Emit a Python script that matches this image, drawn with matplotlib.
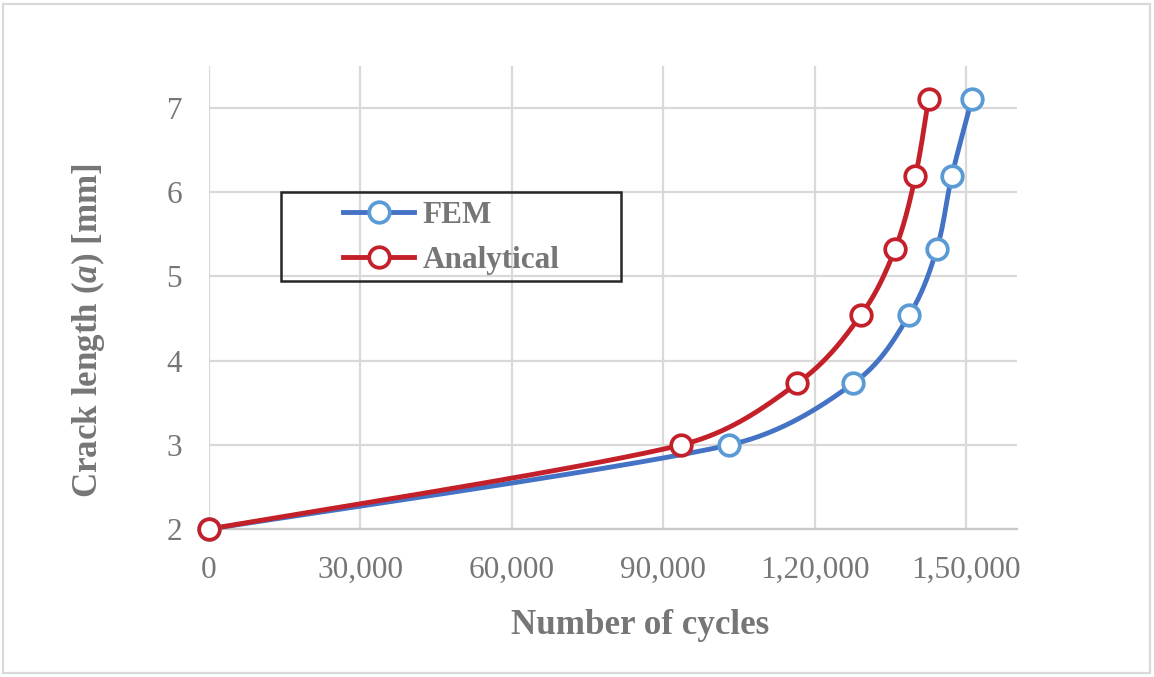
import matplotlib
matplotlib.use('Agg')
import matplotlib.pyplot as plt
import numpy as np
from matplotlib.patches import Rectangle
from matplotlib.lines import Line2D

# ---- data ----
fem_cycles = [0, 103100, 127600, 138650, 144150, 147100, 151100]
fem_crack  = [2.00, 3.00, 3.73, 4.54, 5.33, 6.19, 7.11]
ana_cycles = [0, 93550, 116500, 129100, 135900, 139900, 142500]
ana_crack  = [2.00, 3.00, 3.73, 4.54, 5.33, 6.19, 7.11]

x_ticks = [0, 30000, 60000, 90000, 120000, 150000]
x_tick_labels = ['0', '30,000', '60,000', '90,000', '1,20,000', '1,50,000']
y_ticks = [2, 3, 4, 5, 6, 7]

GRAY_TXT = '#767676'
BLUE_LINE, BLUE_MK = '#4472C4', '#5B9BD5'
RED = '#C3202A'

plt.rcParams['font.family'] = ['Liberation Serif', 'DejaVu Serif']
plt.rcParams['mathtext.fontset'] = 'custom'
plt.rcParams['mathtext.rm'] = 'Liberation Serif'
plt.rcParams['mathtext.it'] = 'Liberation Serif:italic'
plt.rcParams['mathtext.bf'] = 'Liberation Serif:bold'
plt.rcParams['mathtext.bfit'] = 'Liberation Serif:italic:bold'

# pixel scale of the plot area, so the smoothing behaves like it does on screen
SX, SY = 808.5 / 160000, 84.27


def smooth(x, y, n=60, c=0.4):
    # Excel-like smoothed line: cubic Bezier per segment, tangent from the
    # neighbouring points (|T|/6), handles capped to c * segment length
    p = np.column_stack([np.asarray(x) * SX, np.asarray(y) * SY]).astype(float)
    m = len(p)
    tang = np.empty_like(p)
    for i in range(m):
        tang[i] = p[min(i + 1, m - 1)] - p[max(i - 1, 0)]
    t = np.linspace(0, 1, n)[:, None]
    out = []
    for i in range(m - 1):
        a, b = p[i], p[i + 1]
        d = np.linalg.norm(b - a)
        ta = tang[i] / np.linalg.norm(tang[i])
        tb = tang[i + 1] / np.linalg.norm(tang[i + 1])
        ha = min(np.linalg.norm(tang[i]) / 6, c * d)
        hb = min(np.linalg.norm(tang[i + 1]) / 6, c * d)
        c1, c2 = a + ha * ta, b - hb * tb
        out.append((1 - t) ** 3 * a + 3 * (1 - t) ** 2 * t * c1
                   + 3 * (1 - t) * t ** 2 * c2 + t ** 3 * b)
    out = np.vstack(out)
    return out[:, 0] / SX, out[:, 1] / SY


fig = plt.figure(figsize=(11.54, 6.77), dpi=100)
ax = fig.add_axes([208.5 / 1154, 1 - 529.2 / 677, 808.5 / 1154, 463.5 / 677])

LW, MS, MEW = 3.5, 14.8, 2.7
for xs, ys, lc, mc in [(fem_cycles, fem_crack, BLUE_LINE, BLUE_MK),
                       (ana_cycles, ana_crack, RED, RED)]:
    sx, sy = smooth(xs, ys)
    ax.plot(sx, sy, color=lc, lw=LW, solid_capstyle='round', clip_on=False, zorder=3)
    ax.plot(xs, ys, ls='none', marker='o', ms=MS, mew=MEW, mec=mc, mfc='white',
            clip_on=False, zorder=4)

ax.set_xlim(0, 160000)
ax.set_ylim(2, 7.5)
ax.set_xticks(x_ticks)
ax.set_xticklabels(x_tick_labels)
ax.set_yticks(y_ticks)
ax.tick_params(length=0, labelsize=22.5, labelcolor=GRAY_TXT)
ax.tick_params(axis='x', pad=19)
ax.tick_params(axis='y', pad=19)
ax.grid(color='#d9d9d9', lw=1.6, zorder=0)
ax.set_axisbelow(True)
for s in ['left', 'right', 'top']:
    ax.spines[s].set_visible(False)
ax.spines['bottom'].set_color('#c8c8c8')
ax.spines['bottom'].set_linewidth(1.6)

ax.set_xlabel('Number of cycles', fontsize=25.2, fontweight='bold', color=GRAY_TXT)
ax.xaxis.set_label_coords(0.534, -0.207)
ax.xaxis.label.set_va('center')
ax.set_ylabel(r'Crack length ($\mathbfit{a}$) [mm]', fontsize=25.2, fontweight='bold',
              color=GRAY_TXT)
ax.yaxis.set_label_coords(-0.149, 0.4276)
ax.yaxis.label.set_va('center')

# legend: handles for the two series, boxed frame drawn separately
handles = [Line2D([], [], color=BLUE_LINE, lw=LW, marker='o', ms=MS, mew=MEW,
                  mec=BLUE_MK, mfc='white'),
           Line2D([], [], color=RED, lw=LW, marker='o', ms=MS, mew=MEW,
                  mec=RED, mfc='white')]
bx0, by0, bx1, by1 = 281, 191.7, 620.7, 280.7
leg = ax.legend(handles, ['FEM', 'Analytical'], loc='center', frameon=False,
                bbox_to_anchor=((bx0 + bx1) / 2 / 1154, 1 - ((by0 + by1) / 2 + 1.5) / 677),
                bbox_transform=fig.transFigure, borderpad=0, handlelength=2.3,
                handletextpad=0.25, labelspacing=0.5,
                prop={'size': 22.5, 'weight': 'bold'})
for t in leg.get_texts():
    t.set_color(GRAY_TXT)
fig.add_artist(Rectangle((bx0 / 1154, 1 - by1 / 677), (bx1 - bx0) / 1154, (by1 - by0) / 677,
                         transform=fig.transFigure, fill=False, ec='#262626', lw=1.8))

# outer chart border
fig.add_artist(Rectangle((3 / 1154, 4 / 677), 1147 / 1154, 669 / 677,
                         transform=fig.transFigure, fill=False, ec='#d9d9d9', lw=1.6))

fig.savefig('out.png', dpi=100)
